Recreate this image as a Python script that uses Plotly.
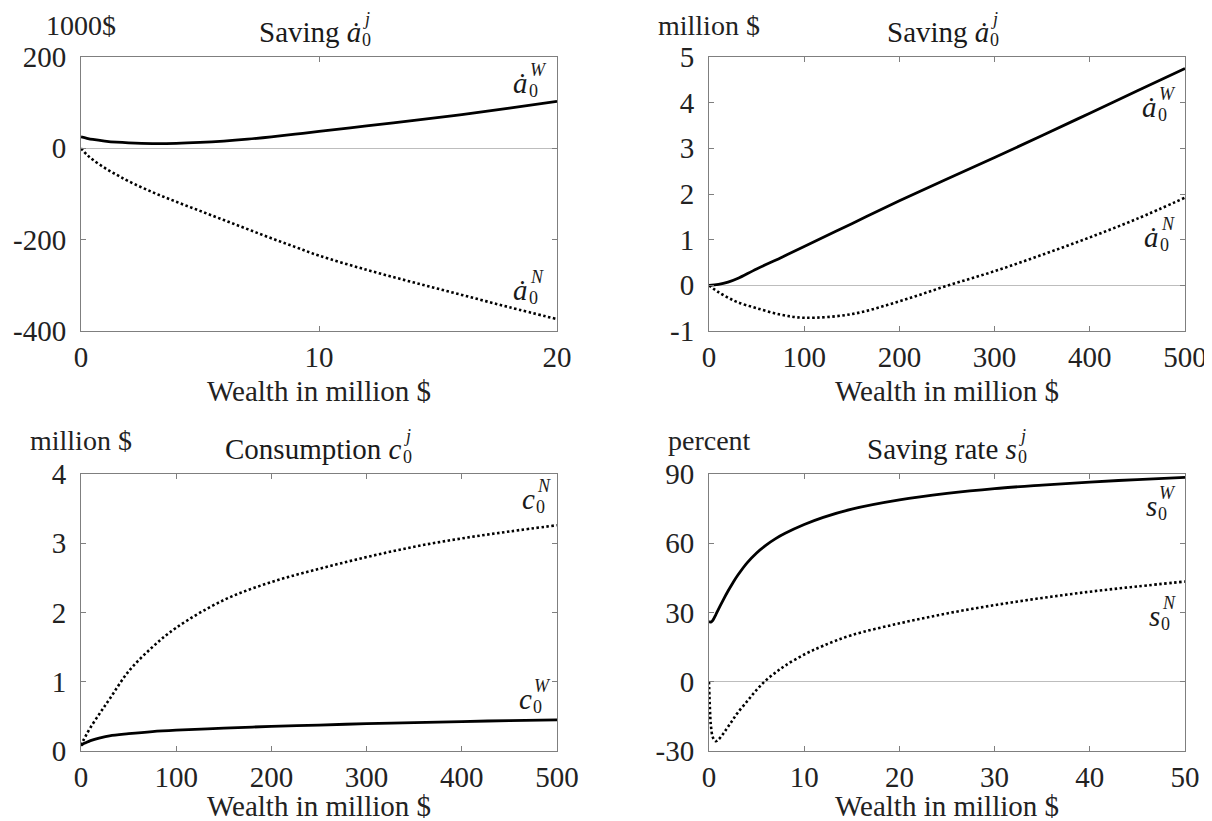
import plotly.graph_objects as go

# ---------------- data ----------------
# Panel 1: saving in 1000$, wealth 0..20 million $
p1_x = [0, 0.25, 0.5, 1, 1.5, 2, 3, 4, 5, 6, 7, 8, 9, 10, 12, 14, 16, 18, 20]
p1_W = [25, 22, 19.5, 16, 13.5, 12, 10.5, 11, 13, 16, 20, 25, 31, 37, 49, 61, 74, 88, 103]
p1_N = [0, -14, -25, -43, -58, -72, -96, -117, -137, -157, -177, -197, -216, -235, -266, -294, -321, -348, -374]

# Panel 2: saving in million $, wealth 0..500 million $
p2_x = [0, 10, 20, 30, 50, 75, 100, 150, 200, 250, 300, 350, 400, 450, 500]
p2_W = [0, 0.02, 0.07, 0.15, 0.36, 0.6, 0.85, 1.35, 1.85, 2.33, 2.8, 3.28, 3.77, 4.26, 4.75]
p2_N = [0, -0.15, -0.27, -0.37, -0.5, -0.64, -0.71, -0.63, -0.35, -0.01, 0.31, 0.67, 1.05, 1.46, 1.92]

# Panel 3: consumption in million $, wealth 0..500 million $
p3_x = [0, 2, 5, 10, 20, 30, 50, 75, 100, 150, 200, 250, 300, 350, 400, 450, 500]
p3_N = [0.08, 0.14, 0.22, 0.34, 0.55, 0.75, 1.15, 1.5, 1.78, 2.18, 2.44, 2.63, 2.8, 2.95, 3.07, 3.17, 3.26]
p3_W = [0.08, 0.1, 0.12, 0.15, 0.19, 0.22, 0.25, 0.28, 0.3, 0.33, 0.355, 0.375, 0.395, 0.41, 0.425, 0.44, 0.45]

# Panel 4: saving rate in percent, wealth 0..50 million $
p4_x = [0, 0.1, 0.2, 0.4, 0.7, 1, 1.5, 2, 2.5, 3, 4, 5, 6, 7, 8, 10, 12, 15, 20, 25, 30, 35, 40, 45, 50]
p4_W = [26, 25.9, 25.8, 26.6, 28.9, 31.5, 35.5, 39.3, 42.8, 46, 51.5, 55.8, 59.2, 62, 64.3, 68.1, 71.2, 74.8, 78.8, 81.6, 83.7, 85.2, 86.5, 87.6, 88.5]
p4_N = [0, -12, -19, -24, -25.8, -25, -22.5, -19.5, -16.5, -13.5, -8.5, -3.5, 0.7, 4, 7, 11.8, 15.6, 20.2, 25.3, 29.6, 33.2, 36.3, 39, 41.3, 43.4]

# ticks
p1_xt = [0, 10, 20]
p1_yt = [200, 0, -200, -400]
p2_xt = [0, 100, 200, 300, 400, 500]
p2_yt = [5, 4, 3, 2, 1, 0, -1]
p3_xt = [0, 100, 200, 300, 400, 500]
p3_yt = [4, 3, 2, 1, 0]
p4_xt = [0, 10, 20, 30, 40, 50]
p4_yt = [90, 60, 30, 0, -30]

# titles: (main text, subscript, superscript)
titles = [("Saving <i>ȧ</i>", "0", "<i>j</i>"),
          ("Saving <i>ȧ</i>", "0", "<i>j</i>"),
          ("Consumption <i>c</i>", "0", "<i>j</i>"),
          ("Saving rate <i>s</i>", "0", "<i>j</i>")]
units = ["1000$", "million $", "million $", "percent"]
xlabel = "Wealth in million $"

# curve labels: (axis suffix, x at split point, y, base, sub, sup)
curve_labels = [
    ("", 18.8, 136, "<i>ȧ</i>", "0", "<i>W</i>"),
    ("", 18.8, -317, "<i>ȧ</i>", "0", "<i>N</i>"),
    ("2", 471, 3.83, "<i>ȧ</i>", "0", "<i>W</i>"),
    ("2", 473, 0.99, "<i>ȧ</i>", "0", "<i>N</i>"),
    ("3", 477, 3.6, "<i>c</i>", "0", "<i>N</i>"),
    ("3", 474, 0.71, "<i>c</i>", "0", "<i>W</i>"),
    ("4", 47.1, 74.8, "<i>s</i>", "0", "<i>W</i>"),
    ("4", 47.4, 27.2, "<i>s</i>", "0", "<i>N</i>"),
]

# ---------------- styling ----------------
W, H = 1212, 821
FONT = "'Liberation Serif', 'Times New Roman', 'DejaVu Serif', serif"
FS = 29
FSS = 18
AXC = "#7f7f7f"
ZC = "#bdbdbd"
TXT = "#1a1a1a"

# pixel boxes (left, right, top, bottom)
boxes = [(73, 549, 49, 323), (701, 1177, 49, 323),
         (73, 549, 466, 743), (701, 1177, 466, 743)]
title_split = [42, 42, 83, 70]   # px offset of the sub/sup split from panel centre


def math_label(fig, xref, yref, x, y, base, sub, sup, ybase_shift=0):
    fig.add_annotation(x=x, y=y, xref=xref, yref=yref, text=base, showarrow=False,
                       xanchor="right", yanchor="middle", xshift=0, yshift=ybase_shift,
                       borderpad=0, borderwidth=0,
                       font=dict(family=FONT, size=FS, color=TXT))
    fig.add_annotation(x=x, y=y, xref=xref, yref=yref, text=sub, showarrow=False,
                       xanchor="left", yanchor="middle", xshift=1, yshift=ybase_shift - 8,
                       borderpad=0, borderwidth=0,
                       font=dict(family=FONT, size=FSS, color=TXT))
    fig.add_annotation(x=x, y=y, xref=xref, yref=yref, text=sup, showarrow=False,
                       xanchor="left", yanchor="middle", xshift=2, yshift=ybase_shift + 13,
                       borderpad=0, borderwidth=0,
                       font=dict(family=FONT, size=FSS, color=TXT))


fig = go.Figure()

panels = [
    (p1_x, p1_W, p1_N, [0, 20], [-400, 200], p1_xt, p1_yt),
    (p2_x, p2_W, p2_N, [0, 500], [-1, 5], p2_xt, p2_yt),
    (p3_x, p3_W, p3_N, [0, 500], [0, 4], p3_xt, p3_yt),
    (p4_x, p4_W, p4_N, [0, 50], [-30, 90], p4_xt, p4_yt),
]

for i, (xs, yw, yn, xr, yr, xt, yt) in enumerate(panels):
    k = "" if i == 0 else str(i + 1)
    fig.add_trace(go.Scatter(x=xs, y=yw, mode="lines", line=dict(color="black", width=2.8, shape="spline"),
                             xaxis="x" + k, yaxis="y" + k, showlegend=False))
    fig.add_trace(go.Scatter(x=xs, y=yn, mode="lines", line=dict(color="black", width=2.6, dash="2.5px,2.5px", shape="spline"),
                             xaxis="x" + k, yaxis="y" + k, showlegend=False))
    l, r, t, b = boxes[i]
    axstyle = dict(showline=True, linecolor=AXC, linewidth=1, mirror="ticks", ticks="inside",
                   ticklen=5, tickcolor=AXC, showgrid=False, automargin=False,
                   tickfont=dict(family=FONT, size=FS, color="#222"))
    fig.layout["xaxis" + k] = dict(axstyle, domain=[l / W, r / W], range=xr, anchor="y" + k,
                                   tickvals=xt, ticktext=[str(v) for v in xt], zeroline=False,
                                   ticklabelstandoff=0)
    fig.layout["yaxis" + k] = dict(axstyle, domain=[1 - b / H, 1 - t / H], range=yr, anchor="x" + k,
                                   tickvals=yt, ticktext=[str(v) for v in yt],
                                   zeroline=True, zerolinecolor=ZC, zerolinewidth=1.2,
                                   ticklabelstandoff=8)
    cx = (l + r) / 2
    base, sub, sup = titles[i]
    math_label(fig, "paper", "paper", (cx + title_split[i]) / W, 1 - (t - 25) / H, base, sub, sup)
    if t < 100:
        fig.add_annotation(x=l / W, y=1, xref="paper", yref="paper", text=units[i],
                           showarrow=False, xanchor="center", yanchor="top",
                           font=dict(family=FONT, size=FS - 1, color="#222"))
        xt_y = b + 60
    else:
        fig.add_annotation(x=l / W, y=1 - (t - 34) / H, xref="paper", yref="paper", text=units[i],
                           showarrow=False, xanchor="center", yanchor="middle",
                           font=dict(family=FONT, size=FS - 1, color="#222"))
        xt_y = b + 55
    fig.add_annotation(x=cx / W, y=1 - xt_y / H, xref="paper", yref="paper", text=xlabel,
                       showarrow=False, xanchor="center", yanchor="middle",
                       font=dict(family=FONT, size=FS, color="#222"))

for k, x, y, base, sub, sup in curve_labels:
    math_label(fig, "x" + k, "y" + k, x, y, base, sub, sup, ybase_shift=3)

fig.update_layout(width=W, height=H, margin=dict(l=0, r=0, t=0, b=0),
                  paper_bgcolor="white", plot_bgcolor="white", showlegend=False,
                  font=dict(family=FONT))

fig.write_html("out.html")
